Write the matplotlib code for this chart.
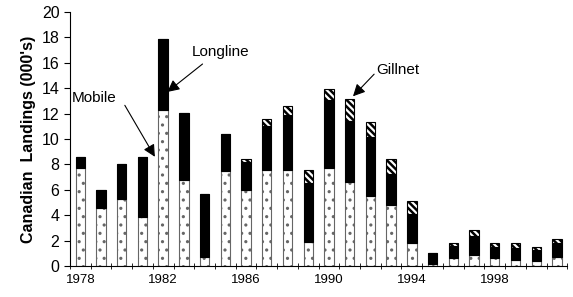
import numpy as np
import matplotlib
matplotlib.use("Agg")
from matplotlib import pyplot as plt

plt.rcParams['font.family'] = ['Liberation Sans', 'DejaVu Sans']

years = list(range(1978, 2002))
# landings in thousands, stacked: mobile, longline, gillnet
mobile = [7.7, 4.6, 5.3, 3.9, 12.3, 6.8, 0.7, 7.5, 6.0, 7.6, 7.6, 1.9,
          7.7, 6.6, 5.5, 4.8, 1.8, 0.2, 0.6, 0.9, 0.6, 0.5, 0.4, 0.7]
longline = [0.85, 1.4, 2.75, 4.65, 5.55, 5.25, 5.0, 2.9, 2.2, 3.4, 4.3, 4.6,
            5.35, 4.85, 4.65, 2.45, 2.3, 0.8, 1.0, 1.5, 0.9, 0.95, 0.85, 1.1]
gillnet = [0, 0, 0, 0, 0, 0, 0, 0, 0.2, 0.6, 0.7, 1.05,
           0.9, 1.7, 1.15, 1.2, 1.05, 0, 0.25, 0.45, 0.3, 0.35, 0.25, 0.3]
tick_years = [1978, 1982, 1986, 1990, 1994, 1998]

fig = plt.figure(figsize=(5.73, 2.97), dpi=100)
ax = fig.add_axes([0.122, 0.104, 0.868, 0.856])

w = 0.45
mobile = np.array(mobile)
longline = np.array(longline)
gillnet = np.array(gillnet)

with plt.rc_context({'hatch.linewidth': 1.1}):
    ax.bar(years, mobile, w, color='white', edgecolor='#666666', hatch='..', linewidth=0.8)
ax.bar(years, longline, w, bottom=mobile, color='black', edgecolor='black', linewidth=0.8)
# gillnet: wide black/white diagonal stripes, black outline
with plt.rc_context({'hatch.linewidth': 1.8}):
    ax.bar(years, gillnet, w, bottom=mobile + longline, color='white', edgecolor='black',
           hatch='\\' * 5, linewidth=0.8)

ax.set_xlim(1977.5, 2001.5)
ax.set_ylim(0, 20)
ax.set_yticks(range(0, 21, 2))
ax.set_xticks(tick_years)
ax.set_xticks(np.arange(1977.5, 2002, 1), minor=True)
ax.tick_params(axis='x', which='major', length=0, labelsize=9.5, pad=6)
ax.tick_params(axis='x', which='minor', length=4, direction='inout')
ax.tick_params(axis='y', labelsize=11.5, length=4, direction='out')
for s in ['top', 'right']:
    ax.spines[s].set_visible(False)
ax.set_ylabel("Canadian  Landings (000's)", fontsize=11.5, fontweight='bold', labelpad=4)

arrow = dict(arrowstyle='-|>', color='black', lw=0.8, mutation_scale=18, shrinkA=0, shrinkB=0)
ax.text(1983.4, 16.3, 'Longline', fontsize=11, ha='left', va='bottom')
ax.annotate('', xy=(1982.2, 13.7), xytext=(1983.9, 15.9), arrowprops=arrow)
ax.text(1977.6, 12.9, 'Mobile', fontsize=11, ha='left', va='baseline')
ax.annotate('', xy=(1981.6, 8.6), xytext=(1980.15, 12.65), arrowprops=arrow)
ax.text(1992.3, 15.1, 'Gillnet', fontsize=11, ha='left', va='baseline')
ax.annotate('', xy=(1991.16, 13.36), xytext=(1992.18, 15.1), arrowprops=arrow)

fig.savefig('out.png', dpi=100)
